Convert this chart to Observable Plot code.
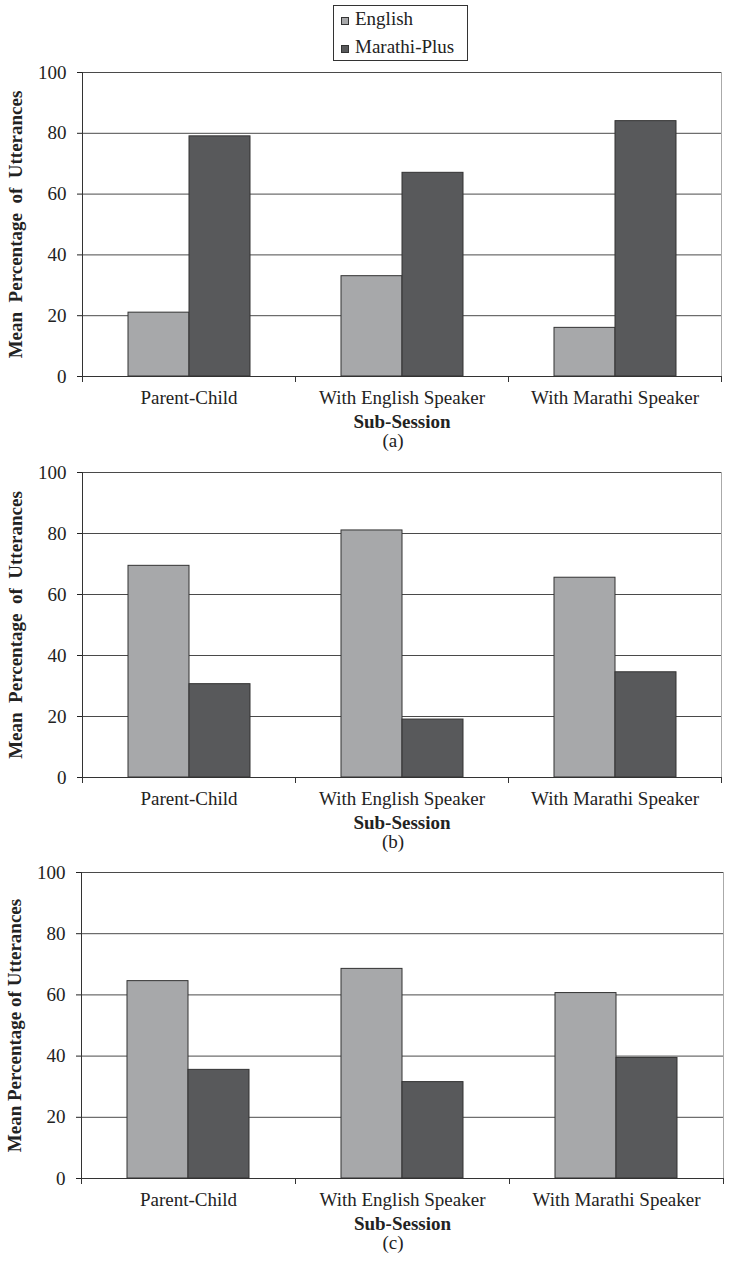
<!DOCTYPE html>
<html><head><meta charset="utf-8">
<script src="https://cdn.jsdelivr.net/npm/d3@7"></script>
<script src="https://cdn.jsdelivr.net/npm/@observablehq/plot@0.6"></script>
<style>
html,body{margin:0;padding:0;background:#fff;}
#root{position:relative;width:734px;height:1262px;font-family:"Liberation Serif","Times New Roman",serif;color:#222;overflow:hidden;}
.panel{position:absolute;left:0;}
.cap{position:absolute;left:0;width:734px;text-align:center;font-size:19px;line-height:20px;}
svg [aria-label="fx-axis label"] text, svg [aria-label="y-axis label"] text{font-weight:bold;white-space:pre;}
#legend{position:absolute;left:333px;top:5px;width:135px;height:56px;border:1px solid #333;box-sizing:border-box;font-size:19px;background:#fff;}
.item{position:absolute;left:7px;height:20px;line-height:20px;white-space:nowrap;}
.sw{display:inline-block;width:8px;height:8px;border:1px solid #333;margin-right:6px;vertical-align:middle;box-sizing:border-box;}
</style></head>
<body><div id="root"></div>
<script>
const categories = ["Parent-Child", "With English Speaker", "With Marathi Speaker"];
const series = ["English", "Marathi-Plus"];
const seriesFills = ["#a7a8aa", "#58595b"];
const yTicks = [0, 20, 40, 60, 80, 100];

const englishA = [21, 33, 16];
const marathiA = [79, 67, 84];
const englishB = [69.4, 81, 65.5];
const marathiB = [30.6, 19, 34.5];
const englishC = [64.5, 68.5, 60.6];
const marathiC = [35.5, 31.5, 39.4];

const panelLabels = ["(a)", "(b)", "(c)"];
const yLabels = ["Mean  Percentage  of  Utterances", "Mean  Percentage  of  Utterances", "Mean Percentage of Utterances"];
const xLabel = "Sub-Session";

const root = document.getElementById("root");
const FONT = '"Liberation Serif","Times New Roman",serif';

// legend
const legend = document.createElement("div");
legend.id = "legend";
series.forEach((s, i) => {
  const it = document.createElement("div");
  it.className = "item";
  it.style.top = (3 + i * 28) + "px";
  const sw = document.createElement("span");
  sw.className = "sw";
  sw.style.background = seriesFills[i];
  it.appendChild(sw);
  it.appendChild(document.createTextNode(s));
  legend.appendChild(it);
});
root.appendChild(legend);

function panel(eng, mar, idx, geo) {
  const rows = [];
  categories.forEach((c, i) => {
    rows.push({category: c, series: series[0], value: eng[i]});
    rows.push({category: c, series: series[1], value: mar[i]});
  });
  const mt = 22, mb = 56;
  const plotH = geo.y0 - geo.y100;
  const svg = Plot.plot({
    width: 734,
    height: plotH + mt + mb,
    marginTop: mt,
    marginBottom: mb,
    marginLeft: geo.left,
    marginRight: 734 - geo.right,
    style: {fontFamily: FONT, fontSize: "19px", color: "#222", background: "transparent", overflow: "visible"},
    fx: {domain: categories, padding: 0},
    x: {domain: series, paddingInner: 0, paddingOuter: geo.pad, axis: null},
    y: {domain: [0, 100]},
    color: {domain: series, range: seriesFills},
    marks: [
      Plot.gridY(yTicks.slice(1), {stroke: "#4a4a4a", strokeOpacity: 1}),
      Plot.frame({anchor: "right", facet: "super", insetBottom: -5, stroke: "#aaa"}),
      Plot.frame({anchor: "right", facet: "super", insetTop: plotH, insetBottom: -5, stroke: "#333"}),
      Plot.frame({anchor: "left", insetTop: plotH, insetBottom: -5, stroke: "#333"}),
      Plot.frame({anchor: "left", facet: "super", insetBottom: -5, stroke: "#333"}),
      Plot.ruleY([0], {stroke: "#333"}),
      Plot.barY(rows, {fx: "category", x: "series", y: "value", fill: "series", stroke: "#333", strokeWidth: 1}),
      Plot.axisY({ticks: yTicks, tickSize: 5, tickPadding: 11, label: yLabels[idx], labelArrow: "none", labelAnchor: "center", labelOffset: 74}),
      Plot.axisFx({anchor: "bottom", tickSize: 0, tickPadding: 14, label: xLabel, labelArrow: "none", labelAnchor: "center", labelOffset: 51})
    ]
  });
  svg.classList.add("panel");
  svg.style.top = (geo.y100 - mt) + "px";
  svg.style.position = "absolute";
  root.appendChild(svg);
  const cap = document.createElement("div");
  cap.className = "cap";
  cap.style.top = (geo.y0 + 55) + "px";
  cap.style.left = "26px";
  cap.textContent = panelLabels[idx];
  root.appendChild(cap);
}

panel(englishA, marathiA, 0, {y100: 72, y0: 376, left: 81, right: 721, pad: 0.74});
panel(englishB, marathiB, 1, {y100: 472, y0: 777, left: 81, right: 721, pad: 0.74});
panel(englishC, marathiC, 2, {y100: 872, y0: 1178, left: 80, right: 723, pad: 0.73});
</script>
</body></html>
